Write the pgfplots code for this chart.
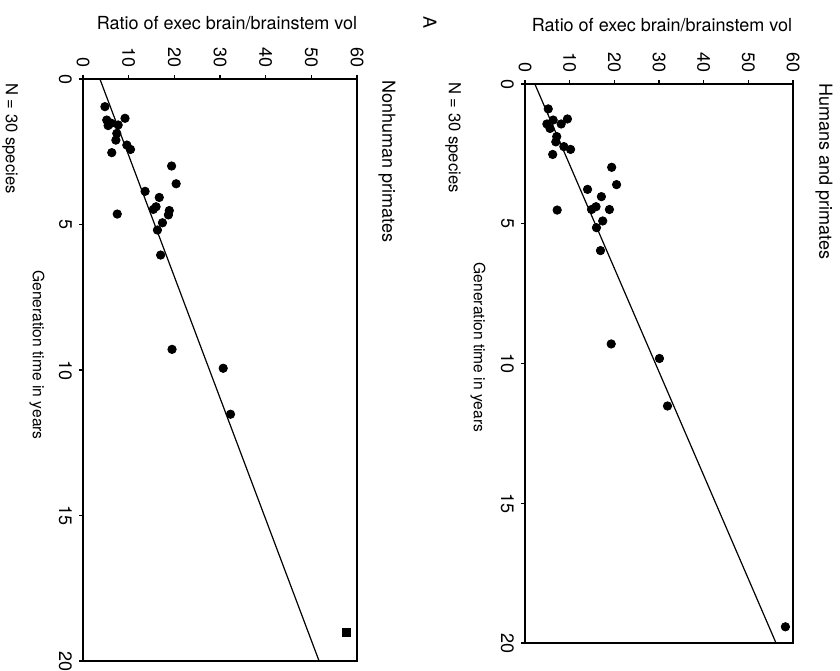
\documentclass[border=0pt]{standalone}
\usepackage{fontspec}
\setmainfont{TeX Gyre Heros}
\usepackage{pgfplots}
\pgfplotsset{compat=1.18}

\pgfplotsset{
  panel/.style={
    scale only axis, anchor=south west,
    xmin=0, xmax=60, ymin=0, ymax=20, y dir=reverse,
    xtick={0,10,...,60}, ytick={0,5,10,15,20},
    xtick pos=right, xticklabel pos=right, ytick pos=left,
    tick align=outside, major tick length=2pt,
    axis background/.style={draw=black, line width=0.75pt},
    tick style={line width=0.6pt,black},
    xticklabel style={rotate=-90, anchor=east, font=\fontsize{9}{10}\selectfont},
    yticklabel style={rotate=-90, anchor=north, font=\fontsize{9}{10}\selectfont},
    /pgf/number format/assume math mode=true,
    clip=false,
  },
  dots/.style={only marks, mark=*, mark size=2.1pt, black},
  fit/.style={black, line width=0.6pt},
}

\begin{document}
\begin{tikzpicture}
\useasboundingbox (0,0) rectangle (420pt,335pt);

% right panel: humans and primates
\begin{axis}[panel, at={(262.5pt,13.5pt)}, width=134pt, height=279.5pt]
\addplot[fit] coordinates {(2.2,0) (56.2,20)};
\addplot[dots] coordinates {
(5.2,0.89) (9.5,1.25) (6.3,1.29) (4.9,1.43) (8.1,1.43) (5.6,1.59)
(7.1,1.88) (6.9,2.07) (8.7,2.24) (10.2,2.34) (6.2,2.52) (19.4,2.98)
(20.5,3.60) (14.0,3.77) (17.1,4.03) (7.2,4.51) (14.9,4.49) (15.9,4.39)
(18.9,4.49) (17.4,4.90) (16.0,5.14) (16.9,5.96) (19.3,9.30) (30.1,9.82)
(31.9,11.52) (58.3,19.42)};
\end{axis}

% left panel: nonhuman primates
\begin{axis}[panel, at={(41.5pt,4.5pt)}, width=137pt, height=291pt]
\addplot[fit] coordinates {(3.7,0) (51.7,20)};
\addplot[dots] coordinates {
(4.8,0.95) (9.2,1.35) (5.2,1.41) (6.2,1.52) (5.5,1.60) (7.7,1.58)
(7.4,1.87) (7.2,2.10) (9.6,2.27) (10.4,2.42) (6.3,2.53) (19.4,2.99)
(20.4,3.60) (13.6,3.86) (16.7,4.07) (7.5,4.64) (15.4,4.48) (16.0,4.39)
(18.9,4.52) (18.7,4.67) (17.4,4.94) (16.3,5.19) (17.0,6.05) (19.5,9.29)
(30.7,9.94) (32.3,11.52)};
\addplot[only marks, mark=square*, mark size=2pt, black] coordinates {(57.6,19.01)};
\end{axis}

\begin{scope}[every node/.style={inner sep=0pt}]
\node[font=\fontsize{9}{10}\selectfont] at (331pt,322.5pt) {Ratio of exec brain/brainstem vol};
\node[font=\fontsize{9}{10}\selectfont] at (113.5pt,323.5pt) {Ratio of exec brain/brainstem vol};
\node[font=\fontsize{9}{10}\selectfont, rotate=-90] at (215pt,323.5pt) {A};
\node[font=\fontsize{9}{10}\selectfont, rotate=-90, anchor=west] at (412pt,293.5pt) {Humans and primates};
\node[font=\fontsize{9}{10}\selectfont, rotate=-90, anchor=west] at (193.5pt,295pt) {Nonhuman primates};
\node[font=\fontsize{7.8}{9}\selectfont, rotate=-90] at (239pt,161.25pt) {Generation time in years};
\node[font=\fontsize{7.8}{9}\selectfont, rotate=-90] at (18.5pt,157.5pt) {Generation time in years};
\node[font=\fontsize{8.3}{9}\selectfont, rotate=-90, anchor=west] at (226.5pt,294pt) {N = 30 species};
\node[font=\fontsize{8.3}{9}\selectfont, rotate=-90, anchor=west] at (5pt,293.5pt) {N = 30 species};
\end{scope}
\end{tikzpicture}
\end{document}
